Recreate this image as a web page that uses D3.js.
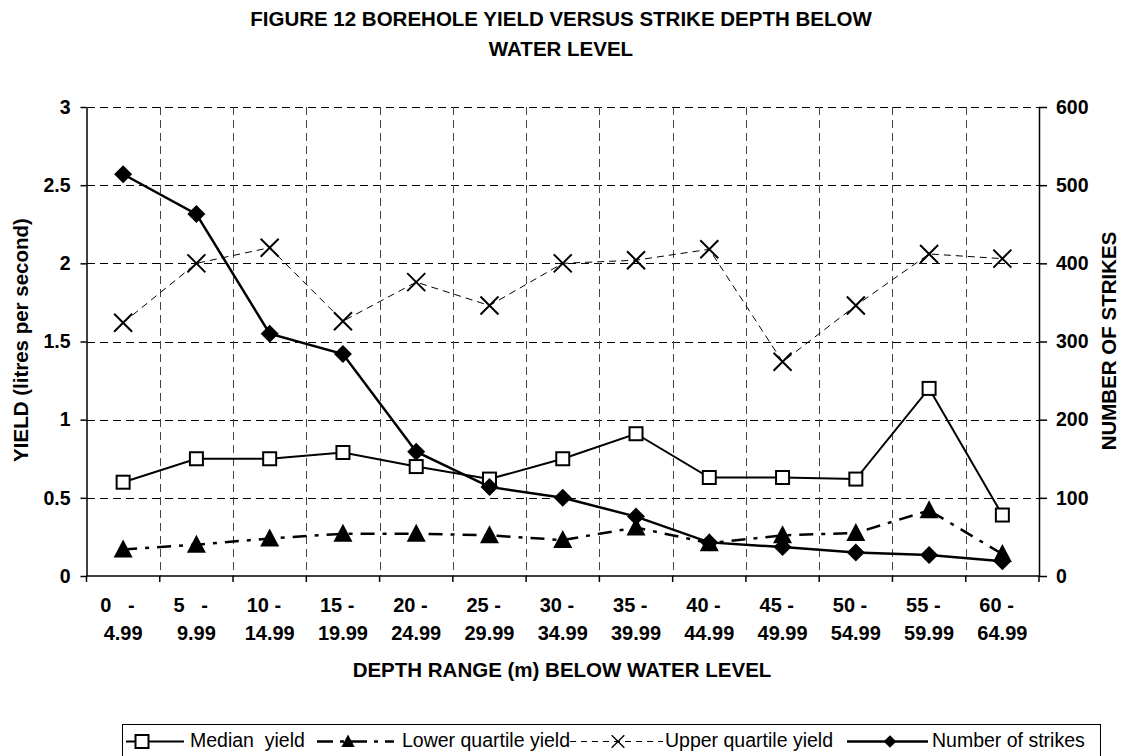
<!DOCTYPE html>
<html>
<head>
<meta charset="utf-8">
<script src="https://cdn.jsdelivr.net/npm/d3@7"></script>
<style>
  body { margin: 0; background: #fff; }
  text { font-family: Arial, "Liberation Sans", sans-serif; white-space: pre; }
</style>
</head>
<body>
<div id="chart"></div>
<script>
var vWidth = 1122;
var vHeight = 756;

// Data
var rangesTop = ["0   -", "5   -", "10 -", "15 -", "20 -", "25 -", "30 -", "35 -", "40 -", "45 -", "50 -", "55 -", "60 -"];
var rangesBottom = ["4.99", "9.99", "14.99", "19.99", "24.99", "29.99", "34.99", "39.99", "44.99", "49.99", "54.99", "59.99", "64.99"];
var medianYield = [0.60, 0.75, 0.75, 0.79, 0.70, 0.62, 0.75, 0.91, 0.63, 0.63, 0.62, 1.20, 0.39];
var lowerQuartile = [0.17, 0.20, 0.24, 0.27, 0.27, 0.26, 0.23, 0.31, 0.21, 0.26, 0.275, 0.42, 0.14];
var upperQuartile = [1.62, 2.00, 2.10, 1.63, 1.88, 1.73, 2.00, 2.02, 2.09, 1.37, 1.73, 2.06, 2.03];
var numStrikes = [514, 463, 310, 284, 159, 114, 100, 76, 43, 37, 30, 27, 19];
var yTicks = [0, 0.5, 1, 1.5, 2, 2.5, 3];
var y2Ticks = [0, 100, 200, 300, 400, 500, 600];

var margin = {left: 86.5, right: 1039, top: 107, bottom: 576};

var svg = d3.select("#chart")
            .append("svg")
            .attr("width", vWidth)
            .attr("height", vHeight);

var x = d3.scaleBand().domain(d3.range(13)).range([margin.left, margin.right]);
var y = d3.scaleLinear().domain([0, 3]).range([margin.bottom, margin.top]);
var y2 = d3.scaleLinear().domain([0, 600]).range([margin.bottom, margin.top]);
var cx = i => x(i) + x.bandwidth() / 2;

// Title
svg.append("text").attr("x", 561).attr("y", 26).attr("text-anchor", "middle")
   .attr("font-size", 20.5).attr("font-weight", "bold")
   .text("FIGURE 12 BOREHOLE YIELD VERSUS STRIKE DEPTH BELOW");
svg.append("text").attr("x", 561).attr("y", 56).attr("text-anchor", "middle")
   .attr("font-size", 20.5).attr("font-weight", "bold")
   .text("WATER LEVEL");

// Gridlines
var grid = svg.append("g").attr("stroke", "#000").attr("stroke-width", 1)
              .attr("stroke-dasharray", "8,5").attr("shape-rendering", "crispEdges");
grid.selectAll(".hg").data(yTicks.slice(1)).enter().append("line")
    .attr("x1", margin.left).attr("x2", margin.right)
    .attr("y1", d => Math.round(y(d)) + 0.5).attr("y2", d => Math.round(y(d)) + 0.5);
grid.selectAll(".vg").data(d3.range(1, 13)).enter().append("line")
    .attr("x1", d => Math.round(x(d)) + 0.5).attr("x2", d => Math.round(x(d)) + 0.5)
    .attr("y1", margin.top).attr("y2", margin.bottom)
    .attr("stroke", "#444");

// Axes
var axisFont = function (g) {
  g.selectAll("text").attr("font-size", 19.5).attr("font-weight", "bold")
   .attr("font-family", "Arial, 'Liberation Sans', sans-serif").attr("fill", "#000");
  g.selectAll("line,path").attr("stroke", "#000").attr("stroke-width", 1.5);
};
svg.append("g").attr("transform", `translate(${margin.left},0)`)
   .call(d3.axisLeft(y).tickValues(yTicks).tickFormat(d => d).tickSize(6).tickSizeOuter(0).tickPadding(10))
   .call(axisFont);
svg.append("g").attr("transform", `translate(${margin.right},0)`)
   .call(d3.axisRight(y2).tickValues(y2Ticks).tickFormat(d => d).tickSize(8).tickSizeOuter(0).tickPadding(9))
   .call(axisFont);

// x axis line with ticks at category boundaries
var xa = svg.append("g");
xa.append("line").attr("x1", margin.left).attr("x2", margin.right)
  .attr("y1", margin.bottom).attr("y2", margin.bottom).attr("stroke", "#000").attr("stroke-width", 1.5);
xa.selectAll(".xt").data(d3.range(0, 14)).enter().append("line")
  .attr("x1", d => d < 13 ? x(d) : margin.right).attr("x2", d => d < 13 ? x(d) : margin.right)
  .attr("y1", margin.bottom).attr("y2", margin.bottom + 6)
  .attr("stroke", "#000").attr("stroke-width", 1.5);
xa.selectAll(".xl1").data(rangesTop).enter().append("text")
  .attr("x", (d, i) => cx(i) - 23).attr("y", 612).attr("text-anchor", "start")
  .attr("font-size", 20).attr("font-weight", "bold").text(d => d);
xa.selectAll(".xl2").data(rangesBottom).enter().append("text")
  .attr("x", (d, i) => cx(i)).attr("y", 640).attr("text-anchor", "middle")
  .attr("font-size", 20).attr("font-weight", "bold").text(d => d);

// Axis titles
svg.append("text").attr("x", 562).attr("y", 677).attr("text-anchor", "middle")
   .attr("font-size", 20.5).attr("font-weight", "bold").text("DEPTH RANGE (m) BELOW WATER LEVEL");
svg.append("text").attr("transform", "translate(28,340) rotate(-90)").attr("text-anchor", "middle")
   .attr("font-size", 20.5).attr("font-weight", "bold").text("YIELD (litres per second)");
svg.append("text").attr("transform", "translate(1116,341) rotate(-90)").attr("text-anchor", "middle")
   .attr("font-size", 20.5).attr("font-weight", "bold").text("NUMBER OF STRIKES");

// Markers
function drawMarker(g, type, px, py) {
  if (type === "square") {
    g.append("rect").attr("x", px - 6.5).attr("y", py - 6.5).attr("width", 13).attr("height", 13)
     .attr("fill", "#fff").attr("stroke", "#000").attr("stroke-width", 2);
  } else if (type === "triangle") {
    g.append("path").attr("d", `M${px},${py - 10}L${px + 9.5},${py + 8}L${px - 9.5},${py + 8}Z`).attr("fill", "#000");
  } else if (type === "cross") {
    g.append("path").attr("d", `M${px - 9},${py - 9}L${px + 9},${py + 9}M${px - 9},${py + 9}L${px + 9},${py - 9}`)
     .attr("stroke", "#000").attr("stroke-width", 2);
  } else if (type === "diamond") {
    g.append("path").attr("d", `M${px},${py - 9}L${px + 9},${py}L${px},${py + 9}L${px - 9},${py}Z`).attr("fill", "#000");
  }
}

var seriesList = [
  {name: "Upper quartile yield", values: upperQuartile, scale: y, marker: "cross", width: 1, dash: "7,5"},
  {name: "Median  yield", values: medianYield, scale: y, marker: "square", width: 2, dash: null},
  {name: "Lower quartile yield", values: lowerQuartile, scale: y, marker: "triangle", width: 2.5, dash: "14,8,4,8"},
  {name: "Number of strikes", values: numStrikes, scale: y2, marker: "diamond", width: 2.5, dash: null}
];

seriesList.forEach(function (s) {
  var line = d3.line().x((d, i) => cx(i)).y(d => s.scale(d));
  var g = svg.append("g");
  g.append("path").datum(s.values).attr("d", line).attr("fill", "none")
   .attr("stroke", "#000").attr("stroke-width", s.width)
   .attr("stroke-dasharray", s.dash);
  s.values.forEach((v, i) => drawMarker(g, s.marker, cx(i), s.scale(v)));
});

// Legend
var lg = svg.append("g");
lg.append("rect").attr("x", 122.5).attr("y", 724.5).attr("width", 978).attr("height", 40)
  .attr("fill", "#fff").attr("stroke", "#000").attr("stroke-width", 1);
var legendItems = [
  {name: "Median  yield", marker: "square", width: 2, dash: null, x0: 126, x1: 184, mx: 142, tx: 190},
  {name: "Lower quartile yield", marker: "triangle", width: 2.5, dash: "16,7,4,7", x0: 317, x1: 394, mx: 348, tx: 402},
  {name: "Upper quartile yield", marker: "cross", width: 1, dash: "6,5", x0: 570, x1: 663, mx: 618, tx: 665},
  {name: "Number of strikes", marker: "diamond", width: 2.5, dash: null, x0: 847, x1: 928, mx: 890, tx: 932}
];
legendItems.forEach(function (d) {
  lg.append("line").attr("x1", d.x0).attr("x2", d.x1).attr("y1", 741.5).attr("y2", 741.5)
    .attr("stroke", "#000").attr("stroke-width", d.width).attr("stroke-dasharray", d.dash);
  var m = lg.append("g");
  drawMarker(m, d.marker, d.mx, 741.5);
  if (d.marker !== "square") m.attr("transform", `translate(${d.mx},741.5) scale(0.7) translate(${-d.mx},-741.5)`);
  lg.append("text").attr("x", d.tx).attr("y", 747).attr("font-size", 19.5).text(d.name);
});
</script>
</body>
</html>
